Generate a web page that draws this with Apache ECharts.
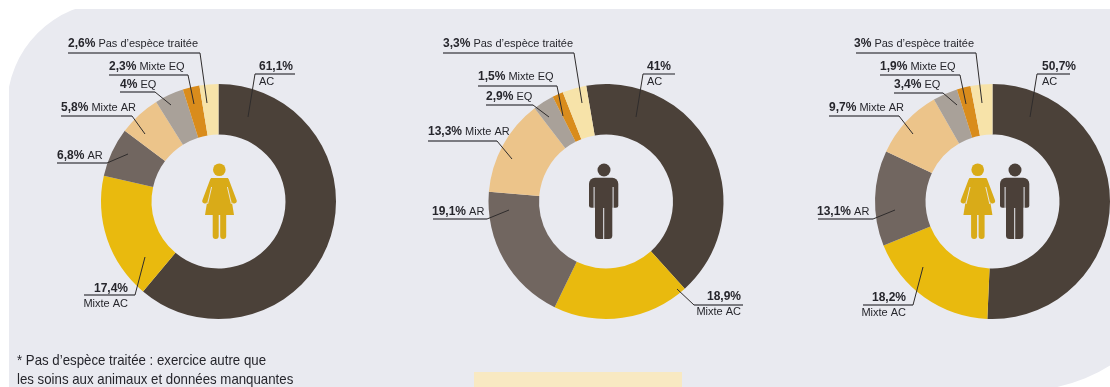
<!DOCTYPE html>
<html lang="fr">
<head>
<meta charset="utf-8">
<title>Exercice selon le genre</title>
<style>html,body{margin:0;padding:0;background:#fff;overflow:hidden}#chart{width:1110px;height:387px}</style>
<script src="https://cdn.jsdelivr.net/npm/echarts@6/dist/echarts.min.js"></script>
</head>
<body>
<div id="chart"></div>
<script>
// Activity shares, in clockwise order around each ring
const categories = ['AC', 'Mixte AC', 'AR', 'Mixte AR', 'EQ', 'Mixte EQ', 'Pas d\u2019esp\u00e8ce trait\u00e9e'];
const femmes = [61.1, 17.4, 6.8, 5.8, 4, 2.3, 2.6];
const hommes = [41, 18.9, 19.1, 13.3, 2.9, 1.5, 3.3];
const ensemble = [50.7, 18.2, 13.1, 9.7, 3.4, 1.9, 3];
const noteLines = ['* Pas d\u2019esp\u00e8ce trait\u00e9e : exercice autre que', 'les soins aux animaux et donn\u00e9es manquantes'];

const colors = ['#4b4139', '#e9ba0e', '#716660', '#ecc48a', '#a9a199', '#d98c1c', '#f7e3a9'];
const WOMAN = '#d9ab18', MAN = '#4b4039', PANEL = '#e9eaf0', INK = '#26262c';

// Label placement per ring: [anchor x, centre y, align, underline far end, elbow, leader tip]
const femmesLabels = [
  [259, 74.5, 'left', [295, 74], [255, 74], [248, 117]],
  [128, 296, 'right', [84, 295], [135, 295], [145, 257]],
  [57, 156, 'left', [57, 163], [107, 163], [128, 154]],
  [61, 108, 'left', [61, 116], [132, 116], [145, 134]],
  [120, 85, 'left', [120, 92], [155, 92], [171, 105]],
  [109, 67, 'left', [109, 75], [188, 75], [194, 104]],
  [68, 44, 'left', [68, 53], [200, 53], [207, 103]]
];
const hommesLabels = [
  [647, 74.5, 'left', [675, 74], [643, 74], [636, 117]],
  [741, 304.5, 'right', [743, 305], [694, 305], [677, 289]],
  [432, 212, 'left', [433, 219], [487, 219], [509, 210]],
  [428, 132, 'left', [428, 141], [497, 141], [512, 159]],
  [486, 97, 'left', [486, 105], [533, 105], [549, 117]],
  [478, 77, 'left', [478, 86], [557, 86], [563, 116]],
  [443, 44, 'left', [443, 53], [574, 53], [582, 103]]
];
const ensembleLabels = [
  [1042, 74.5, 'left', [1070, 74], [1037, 74], [1030, 117]],
  [906, 305, 'right', [863, 305], [913, 305], [923, 267]],
  [817, 212, 'left', [818, 219], [873, 219], [895, 210]],
  [829, 108, 'left', [829, 116], [899, 116], [913, 134]],
  [894, 85, 'left', [894, 93], [943, 93], [957, 105]],
  [880, 67, 'left', [880, 75], [960, 75], [966, 104]],
  [854, 44, 'left', [856, 53], [976, 53], [982, 103]]
];

const FONT = '"Liberation Sans", Arial, sans-serif';
const pct = v => String(v).replace('.', ',') + '%';

// Draws one ring; the two largest activities stack their name under the value
function ring(values, center, startAngle, placement) {
  return {
    type: 'pie',
    center: center,
    radius: [67, 117.5],
    startAngle: startAngle,
    clockwise: true,
    silent: true,
    animation: false,
    avoidLabelOverlap: false,
    data: categories.map((name, i) => ({ name: name, value: values[i], itemStyle: { color: colors[i] } })),
    label: {
      show: true,
      position: 'outer',
      color: INK,
      fontFamily: FONT,
      fontSize: 11,
      lineHeight: 15,
      formatter: p => p.dataIndex < 2
        ? '{b|' + pct(p.value) + '}\n{n|' + p.name + '}'
        : '{b|' + pct(p.value) + '}{n| ' + p.name + '}',
      rich: {
        b: { fontFamily: FONT, fontSize: 12, fontWeight: 'bold', color: INK, lineHeight: 15 },
        n: { fontFamily: FONT, fontSize: 11, color: INK, lineHeight: 15 }
      }
    },
    labelLine: { show: false },
    labelLayout: p => {
      const l = placement[p.dataIndex];
      return { x: l[0], y: l[1], align: l[2], verticalAlign: 'middle', hideOverlap: false };
    }
  };
}

// Underline and leader for each label, laid over the rings
function leaders(placement) {
  const out = [];
  placement.forEach(l => {
    out.push({ type: 'polyline', z: 6, silent: true, shape: { points: [l[3], l[4]] }, style: { fill: null, stroke: '#56565c', lineWidth: 1.4 } });
    out.push({ type: 'polyline', z: 6, silent: true, shape: { points: [l[4], l[5]] }, style: { fill: null, stroke: '#2f2c2c', lineWidth: 1 } });
  });
  return out;
}

// Pictograms centred in the rings
function womanIcon(x, y) {
  const gap = { stroke: PANEL, lineWidth: 0.9 };
  const limb = { stroke: WOMAN, lineWidth: 5, lineCap: 'round' };
  return { type: 'group', x: x, y: y, children: [
    { type: 'circle', shape: { cx: 29.3, cy: 14.7, r: 6.3 }, style: { fill: WOMAN } },
    { type: 'polygon', shape: { points: [[21, 23], [38, 23], [44, 60], [15, 60]] }, style: { fill: WOMAN } },
    { type: 'line', shape: { x1: 22.5, y1: 25.5, x2: 14.8, y2: 46 }, style: limb },
    { type: 'line', shape: { x1: 36.5, y1: 25.5, x2: 44.2, y2: 46 }, style: limb },
    { type: 'line', shape: { x1: 21.6, y1: 32, x2: 17.6, y2: 49 }, style: gap },
    { type: 'line', shape: { x1: 37.4, y1: 32, x2: 41.4, y2: 49 }, style: gap },
    { type: 'rect', shape: { x: 22.7, y: 58, width: 6, height: 26, r: [0, 0, 3, 3] }, style: { fill: WOMAN } },
    { type: 'rect', shape: { x: 30.2, y: 58, width: 6, height: 26, r: [0, 0, 3, 3] }, style: { fill: WOMAN } }
  ] };
}
function manIcon(x, y) {
  return { type: 'group', x: x, y: y, children: [
    { type: 'circle', shape: { cx: 29, cy: 15, r: 6.5 }, style: { fill: MAN } },
    { type: 'rect', shape: { x: 14, y: 22.7, width: 29.3, height: 30, r: [6, 6, 2.5, 2.5] }, style: { fill: MAN } },
    { type: 'rect', shape: { x: 20, y: 40, width: 17.3, height: 44, r: [0, 0, 3.5, 3.5] }, style: { fill: MAN } },
    { type: 'rect', shape: { x: 18.6, y: 32, width: 1, height: 21 }, style: { fill: PANEL } },
    { type: 'rect', shape: { x: 37.6, y: 32, width: 1, height: 21 }, style: { fill: PANEL } },
    { type: 'rect', shape: { x: 28.2, y: 53, width: 1, height: 31 }, style: { fill: PANEL } }
  ] };
}

const chart = echarts.init(document.getElementById('chart'), null, { renderer: 'canvas' });
chart.setOption({
  backgroundColor: '#ffffff',
  animation: false,
  graphic: [
    { type: 'rect', z: -10, shape: { x: 7.1, y: 2.4, width: 1176.9, height: 388.1, r: [104.5, 0, 160, 0] }, style: { fill: PANEL } },
    { type: 'rect', z: -9, shape: { x: 0, y: 0, width: 1110, height: 9 }, style: { fill: '#ffffff' } },
    { type: 'rect', z: -9, shape: { x: 0, y: 0, width: 9, height: 387 }, style: { fill: '#ffffff' } },
    { type: 'rect', z: -8, shape: { x: 474, y: 372, width: 208, height: 15 }, style: { fill: '#f8e9c2' } },
    { type: 'text', x: 17, y: 361, scaleX: 0.914, style: { text: noteLines[0], font: '14.5px ' + FONT, fill: INK, verticalAlign: 'middle' } },
    { type: 'text', x: 17, y: 380, scaleX: 0.914, style: { text: noteLines[1], font: '14.5px ' + FONT, fill: INK, verticalAlign: 'middle' } },
    womanIcon(190, 155),
    manIcon(575, 155),
    womanIcon(948.4, 155),
    manIcon(986, 155)
  ].concat(leaders(femmesLabels), leaders(hommesLabels), leaders(ensembleLabels)),
  series: [
    ring(femmes, [218.5, 201.5], 90, femmesLabels),
    ring(hommes, [606, 201.5], 99.7, hommesLabels),
    ring(ensemble, [992.5, 201.5], 90, ensembleLabels)
  ]
});
</script>
</body>
</html>
